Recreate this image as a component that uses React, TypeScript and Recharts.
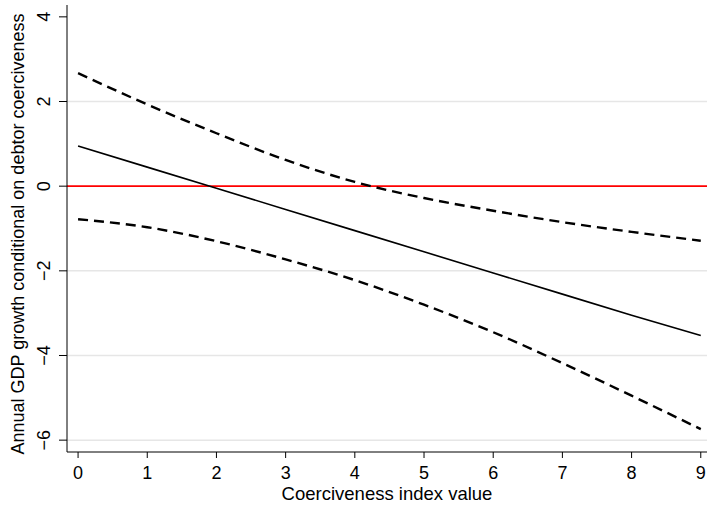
import { LineChart, Line, XAxis, YAxis, ReferenceLine } from 'recharts';

// Values
const xValues = [0, 1, 2, 3, 4, 5, 6, 7, 8, 9];
const fitted = [0.95, 0.45, -0.05, -0.55, -1.05, -1.55, -2.05, -2.55, -3.05, -3.53];
const upperCI = [2.67, 1.93, 1.25, 0.62, 0.1, -0.28, -0.58, -0.85, -1.08, -1.29];
const lowerCI = [-0.78, -0.97, -1.3, -1.73, -2.22, -2.8, -3.45, -4.18, -4.95, -5.74];
const xTicks = [0, 1, 2, 3, 4, 5, 6, 7, 8, 9];
const yTicks = [-6, -4, -2, 0, 2, 4];
const gridAt = [2, -2, -4, -6];

const FONT = '"Liberation Sans", Arial, Helvetica, sans-serif';

const rows = xValues.map((x, i) => ({ x, fit: fitted[i], hi: upperCI[i], lo: lowerCI[i] }));

const fmt = (v: number) => (v < 0 ? '\u2212' + Math.abs(v) : String(v));

// Stata-style vertical tick labels on the y axis
function YTick({ y, payload }: any) {
  return (
    <text x={50} y={y} transform={`rotate(-90, 50, ${y})`} textAnchor="middle"
      fontSize={18} fontFamily={FONT} fill="#000">
      {fmt(payload.value)}
    </text>
  );
}

function XTick({ x, y, payload }: any) {
  return (
    <text x={x} y={y + 19} textAnchor="middle" fontSize={18} fontFamily={FONT} fill="#000">
      {payload.value}
    </text>
  );
}

export default function App() {
  return (
    <div style={{ position: 'absolute', left: 0, top: 0, background: '#fff' }}>
      <LineChart width={707} height={508} data={rows} margin={{ top: 5, right: 0, bottom: 0, left: 0 }}>
        {gridAt.map((g) => (
          <ReferenceLine key={g} y={g} stroke="#e6e6e6" strokeWidth={1.5} />
        ))}
        <XAxis
          dataKey="x" type="number" domain={[-0.16, 9.09]} ticks={xTicks} allowDataOverflow
          height={56} tickSize={6} stroke="#000" tick={<XTick />}
          label={{
            content: ({ viewBox }: any) => (
              <text x={viewBox.x + viewBox.width / 2} y={viewBox.y + 48} textAnchor="middle"
                fontSize={18.5} fontFamily={FONT} fill="#000">Coerciveness index value</text>
            ),
          }}
        />
        <YAxis
          type="number" domain={[-6.28, 4.28]} ticks={yTicks} allowDataOverflow
          width={67} tickSize={8} stroke="#000" tick={<YTick />}
          label={{
            content: () => (
              <text x={24} y={234} transform="rotate(-90, 24, 234)" textAnchor="middle"
                fontSize={18} fontFamily={FONT} fill="#000">
                Annual GDP growth conditional on debtor coerciveness
              </text>
            ),
          }}
        />
        <ReferenceLine y={0} stroke="#ff0000" strokeWidth={1.6} />
        <Line dataKey="hi" type="monotone" stroke="#000" strokeWidth={2.4} strokeDasharray="10 6" dot={false} isAnimationActive={false} />
        <Line dataKey="lo" type="monotone" stroke="#000" strokeWidth={2.4} strokeDasharray="10 6" dot={false} isAnimationActive={false} />
        <Line dataKey="fit" type="linear" stroke="#000" strokeWidth={1.6} dot={false} isAnimationActive={false} />
      </LineChart>
    </div>
  );
}
